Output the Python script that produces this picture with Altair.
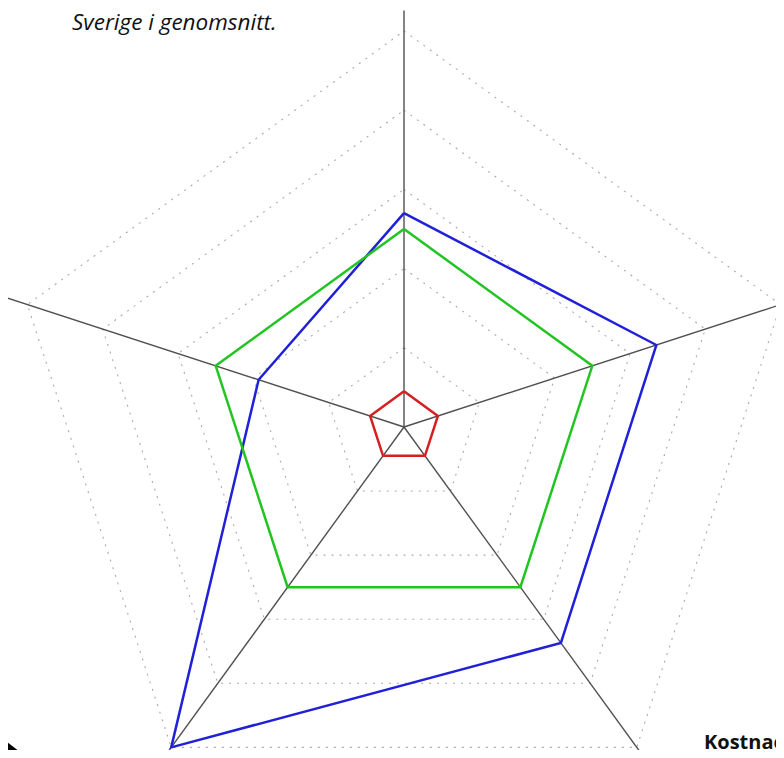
import altair as alt
import pandas as pd

# ---- data ----
axes_idx = [0, 1, 2, 3, 4]            # spokes, clockwise from top
series_names = ["Blå", "Grön", "Röd"]
blue_vals = [2.70, 3.35, 3.37, 5.00, 1.93]
green_vals = [2.50, 2.50, 2.50, 2.50, 2.50]
red_vals = [0.45, 0.45, 0.45, 0.45, 0.45]
grid_levels = [1, 2, 3, 4, 5]
axis_len = 5.26
title_text = "Sverige i genomsnitt."
label_text = "Kostnad"

series_colors = ["#2020d8", "#22c422", "#d42020"]

rows = []
for name, vals in zip(series_names, [blue_vals, green_vals, red_vals]):
    for o, k in enumerate(axes_idx + [axes_idx[0]]):
        rows.append({"series": name, "k": k, "v": vals[k], "o": o})
series_df = pd.DataFrame(rows)

grid_rows = []
for lv in grid_levels:
    for o, k in enumerate(axes_idx + [axes_idx[0]]):
        grid_rows.append({"level": lv, "k": k, "v": lv, "o": o})
grid_df = pd.DataFrame(grid_rows)

spoke_df = pd.DataFrame({"k": axes_idx, "v": [axis_len] * len(axes_idx)})

W, H = 768, 742
unit = 79.2
cx, cy = 396, 419
xs = alt.Scale(domain=[-cx / unit, (W - cx) / unit], nice=False, zero=False)
ys = alt.Scale(domain=[-(H - cy) / unit, cy / unit], nice=False, zero=False)

ang = "PI/2 - datum.k*2*PI/5"

grid = alt.Chart(grid_df).transform_calculate(
    x=f"datum.v*cos({ang})", y=f"datum.v*sin({ang})"
).mark_line(color="#aaaaaa", strokeWidth=1.1, strokeDash=[2, 6], clip=True).encode(
    x=alt.X("x:Q", scale=xs, axis=None),
    y=alt.Y("y:Q", scale=ys, axis=None),
    detail="level:N",
    order="o:Q",
)

spokes = alt.Chart(spoke_df).transform_calculate(
    x=f"datum.v*cos({ang})", y=f"datum.v*sin({ang})", x0="0", y0="0"
).mark_rule(color="#505050", strokeWidth=1.4, clip=True).encode(
    x=alt.X("x0:Q", scale=xs, axis=None),
    y=alt.Y("y0:Q", scale=ys, axis=None),
    x2="x:Q",
    y2="y:Q",
)

lines = alt.Chart(series_df).transform_calculate(
    x=f"datum.v*cos({ang})", y=f"datum.v*sin({ang})"
).mark_line(strokeWidth=2.5, clip=True).encode(
    x=alt.X("x:Q", scale=xs, axis=None),
    y=alt.Y("y:Q", scale=ys, axis=None),
    color=alt.Color("series:N", scale=alt.Scale(domain=series_names, range=series_colors), legend=None),
    order="o:Q",
)

title = alt.Chart(pd.DataFrame({"t": [title_text]})).mark_text(
    align="left", baseline="alphabetic", font="Open Sans", fontStyle="italic",
    fontSize=22.5, color="#111111"
).encode(x=alt.value(64), y=alt.value(22), text="t:N")

label = alt.Chart(pd.DataFrame({"t": [label_text]})).mark_text(
    align="left", baseline="alphabetic", font="Open Sans", fontWeight="bold",
    fontSize=20, color="#111111"
).encode(x=alt.value(696), y=alt.value(741), text="t:N")

arrow = alt.Chart(pd.DataFrame({"a": [1]})).mark_point(
    shape="M0,-1L1,-0.24L0.5,-0.24L0.5,1L-0.5,1L-0.5,-0.24L-1,-0.24Z",
    filled=True, fill="#000000", stroke="#000000", opacity=1, strokeWidth=0
).encode(x=alt.value(-5), y=alt.value(748), size=alt.value(1156))

chart = alt.layer(grid, spokes, lines, title, label, arrow).properties(
    width=W, height=H,
    autosize=alt.AutoSizeParams(type="none"),
    padding=0,
).configure_view(stroke=None)

chart.save("out.html", embed_options={"renderer": "svg", "actions": False})
